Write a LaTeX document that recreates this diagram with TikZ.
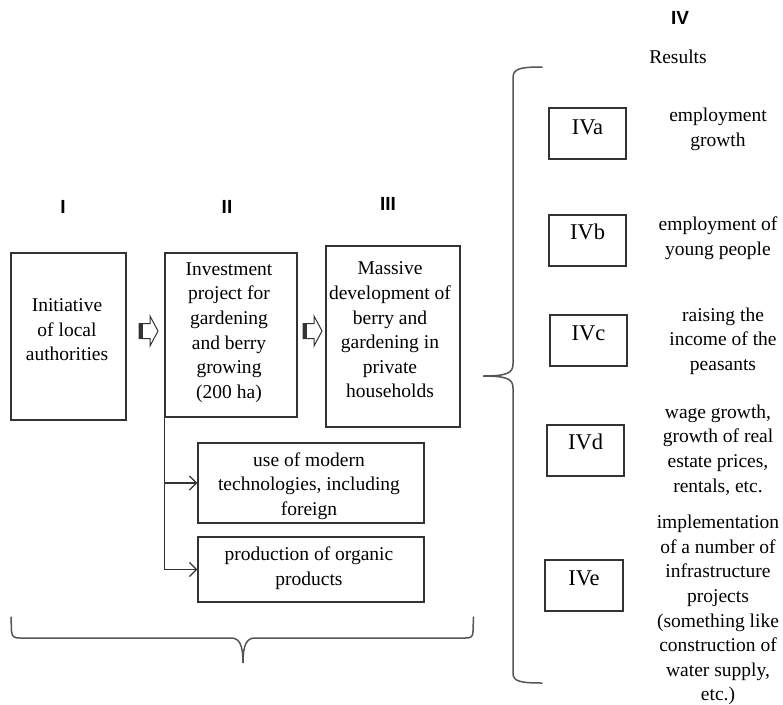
\documentclass[tikz,border=0pt]{standalone}
\usepackage{fontspec}
\setmainfont{Liberation Serif}
\newfontfamily\hdrfont{Liberation Sans}
\usetikzlibrary{arrows.meta,calc}
\definecolor{boxgray}{HTML}{333333}
\definecolor{bracegray}{HTML}{555555}
\begin{document}
\begin{tikzpicture}[x=1pt,y=-1pt,
  box/.style={draw=boxgray, line width=1.3pt, inner sep=0pt},
  txt/.style={align=center, font=\fontsize{19.5}{24.6}\selectfont, inner sep=0pt},
  lbl/.style={font=\fontsize{22.5}{26}\selectfont, inner sep=0pt},
  hdr/.style={font=\hdrfont\bfseries\fontsize{19}{22}\selectfont, inner sep=0pt},
  bracestyle/.style={draw=bracegray, line width=1.5pt, line cap=round},
  link/.style={draw=boxgray, line width=1.3pt, -{Straight Barb[length=7pt,width=14pt,line width=1.3pt]}},
  blockarr/.pic={
    \draw[boxgray, line width=1pt, fill=white, line join=miter]
      (0,-7.5) -- (11,-7.5) -- (11,-15) -- (19,0) -- (11,15) -- (11,7.5) -- (0,7.5) -- cycle;
    \draw[boxgray, line width=3.5pt] (1.75,-7.5) -- (1.75,7.5);
  }]
\useasboundingbox (0,0) rectangle (783,704);

% headers
\node[hdr] (hI) at (63,207) {I};
\node[hdr] (hII) at (227,207) {II};
\node[hdr] (hIII) at (388,204) {III};
\node[hdr] (hIV) at (680,18) {IV};
\node[txt] (res) at (678,57) {Results};

% main boxes
\node[box, minimum width=115, minimum height=167] (b1) at (68.5,336.5) {};
\node[txt] (t1) at (67,330) {Initiative\\of local\\authorities};
\node[box, minimum width=132, minimum height=164] (b2) at (231,335) {};
\node[txt] (t2) at (229,332.5) {Investment\\project for\\gardening\\and berry\\growing\\(200 ha)};
\node[box, minimum width=134, minimum height=181] (b3) at (393,336.5) {};
\node[txt] (t3) at (390,330) {Massive\\development of\\berry and\\gardening in\\private\\households};

\node[box, minimum width=226, minimum height=80] (b4) at (311,483) {};
\node[txt] (t4) at (309,486) {use of modern\\technologies, including\\foreign};
\node[box, minimum width=226, minimum height=65] (b5) at (311,569.5) {};
\node[txt] (t5) at (309,568) {production of organic\\products};

% block arrows
\pic at (139,331) {blockarr};
\pic at (303,331) {blockarr};

% links
\draw[link] (b2.south west) |- (b5.west);
\draw[link] (b2.south west |- b4.west) -- (b4.west);

% result boxes
\node[box, minimum width=77, minimum height=51] (r1) at (587.5,133.5) {};
\node[lbl] at (587.5,127) {IVa};
\node[box, minimum width=77, minimum height=51] (r2) at (587.5,240.5) {};
\node[lbl] at (587.5,232) {IVb};
\node[box, minimum width=77, minimum height=51] (r3) at (588.5,340.5) {};
\node[lbl] at (588.5,333) {IVc};
\node[box, minimum width=77, minimum height=51] (r4) at (585.5,450.5) {};
\node[lbl] at (585.5,442) {IVd};
\node[box, minimum width=78, minimum height=51] (r5) at (584,585.5) {};
\node[lbl] at (584,578) {IVe};

% result texts
\node[txt] (d1) at (718,129.5) {employment\\growth};
\node[txt] (d2) at (718,238) {employment of\\young people};
\node[txt] (d3) at (723,341) {raising the\\income of the\\peasants};
\node[txt] (d4) at (718,450) {wage growth,\\growth of real\\estate prices,\\rentals, etc.};
\node[txt] (d5) at (718,610) {implementation\\of a number of\\infrastructure\\projects\\(something like\\construction of\\water supply,\\etc.)};

% bottom brace
\draw[bracestyle] (11,617) -- (11.5,631) .. controls (12,637) and (14,638) .. (20,638)
  -- (231,638) .. controls (239,638) and (243,644) .. (243,663)
  .. controls (243,644) and (247,638) .. (255,638)
  -- (465,638) .. controls (471,638) and (473,637) .. (473,631) -- (473.5,617);

% right brace
\draw[bracestyle] (542,67) .. controls (519,67) and (513,69) .. (513,78)
  -- (513,364) .. controls (513,373) and (507,376) .. (483,376)
  .. controls (507,376) and (513,379) .. (513,388)
  -- (513,673) .. controls (513,681) and (519,683) .. (542,683);
\end{tikzpicture}
\end{document}
